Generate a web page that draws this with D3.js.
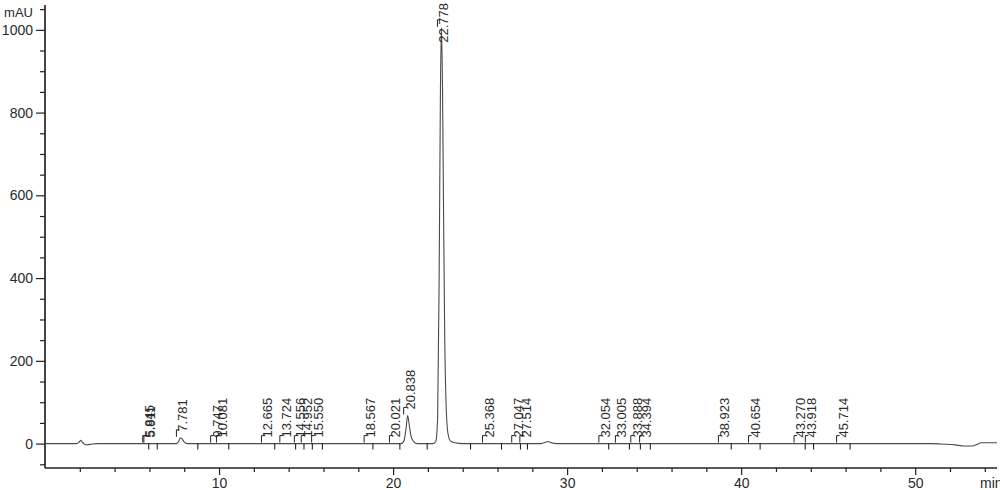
<!DOCTYPE html>
<html>
<head>
<meta charset="utf-8">
<script src="https://cdn.jsdelivr.net/npm/d3@7"></script>
<style>
  html, body { margin: 0; padding: 0; background: #fff; }
  svg { display: block; font-family: "Liberation Sans", Arial, sans-serif; }
</style>
</head>
<body>
<svg id="chart" width="1000" height="490"></svg>
<script>
// ---- Data ----
const timeMin = [0, 1.8, 1.95, 2.06, 2.15, 2.3, 2.45, 2.7, 3.0,
  7.55, 7.68, 7.78, 7.86, 7.98, 8.2,
  20.45, 20.62, 20.74, 20.838, 20.93, 21.03, 21.18, 21.4,
  22.3, 22.45, 22.56, 22.65, 22.72, 22.778, 22.84, 22.9, 22.97, 23.05, 23.15, 23.3, 23.55, 24.0,
  28.5, 28.75, 28.9, 29.1, 29.4,
  51.0, 51.5, 52.3, 52.8, 53.3, 53.55, 53.8, 54.7];
const signalMAU = [0, 0, 3, 8, 3, -2, -3, -1, 0,
  0, 5, 14, 12, 5, 0,
  0, 6, 35, 68, 45, 18, 5, 0,
  0, 5, 60, 420, 850, 1005, 860, 560, 250, 90, 25, 6, 2, 0,
  0, 3, 5, 2, 0,
  0, -1, -3, -6, -6, -2, 2, 2];

const peakRT = [5.845, 5.911, 7.781, 9.747, 10.081, 12.665, 13.724, 14.556, 14.952, 15.550,
  18.567, 20.021, 20.838, 22.778, 25.368, 27.047, 27.514, 32.054, 33.005, 33.888, 34.394,
  38.923, 40.654, 43.270, 43.918, 45.714];
const peakLabels = ["5.845", "5.911", "7.781", "9.747", "10.081", "12.665", "13.724", "14.556", "14.952", "15.550",
  "18.567", "20.021", "20.838", "22.778", "25.368", "27.047", "27.514", "32.054", "33.005", "33.888", "34.394",
  "38.923", "40.654", "43.270", "43.918", "45.714"];
const baselineTicks = [5.96, 6.45, 8.78, 10.56, 13.2, 14.4, 14.88, 15.36, 15.94, 18.84, 20.39, 21.96,
  24.45, 26.23, 27.32, 27.72, 32.39, 33.58, 34.21, 34.78, 39.43, 41.09, 43.68, 44.16, 46.26];

const xMajorTicks = [10, 20, 30, 40, 50];
const yMajorTicks = [0, 200, 400, 600, 800, 1000];
const xUnit = "min";
const yUnit = "mAU";

// ---- Layout ----
const svg = d3.select("#chart");
const x = d3.scaleLinear().domain([0, 54.7]).range([45, 997]);
const y = d3.scaleLinear().domain([-59, 1060]).range([468, 5]);
const axisColor = "#222";
const textColor = "#2a2a2a";

// Y axis
const yMinor = d3.range(-50, 1051, 50).filter(v => !yMajorTicks.includes(v));
const yAxisMajor = d3.axisLeft(y).tickValues(yMajorTicks).tickSize(9).tickPadding(3).tickFormat(d3.format("d"));
const yAxisMinor = d3.axisLeft(y).tickValues(yMinor).tickSize(5).tickFormat("");
const gy = svg.append("g").attr("transform", `translate(${x(0)},0)`);
gy.call(yAxisMajor);
gy.append("g").call(yAxisMinor);
gy.selectAll(".domain").attr("d", `M0,${y.range()[1]}V${y.range()[0]}`);

// X axis
const xMinor = d3.range(2, 55, 2).filter(v => !xMajorTicks.includes(v));
const xAxisMajor = d3.axisBottom(x).tickValues(xMajorTicks).tickSize(7).tickPadding(3).tickFormat(d3.format("d"));
const xAxisMinor = d3.axisBottom(x).tickValues(xMinor).tickSize(4).tickFormat("");
const gx = svg.append("g").attr("transform", `translate(0,${y(-59)})`);
gx.call(xAxisMajor);
gx.append("g").call(xAxisMinor);
gx.selectAll(".domain").attr("d", `M${x.range()[0]},0H${x.range()[1]}`);

svg.selectAll(".domain").attr("stroke", axisColor).attr("stroke-width", 1.2);
svg.selectAll(".tick line").attr("stroke", axisColor).attr("stroke-width", 1.2);
svg.selectAll(".tick text").attr("fill", textColor).attr("font-size", 14)
  .attr("font-family", "'Liberation Sans', Arial, sans-serif");

// Axis unit labels
svg.append("text").attr("x", 33).attr("y", 17).attr("text-anchor", "end")
  .attr("font-size", 13).attr("fill", textColor).text(yUnit);
svg.append("text").attr("x", 980).attr("y", 488)
  .attr("font-size", 14).attr("fill", textColor).text(xUnit);

// Signal trace
const pts = timeMin.map((t, i) => [t, signalMAU[i]]);
const line = d3.line().x(d => x(d[0])).y(d => y(d[1])).curve(d3.curveMonotoneX);
svg.append("path").datum(pts).attr("d", line)
  .attr("fill", "none").attr("stroke", "#4a4a4a").attr("stroke-width", 1.1);

// signal value at a retention time (linear lookup on the read points)
function signalAt(t) {
  for (let i = 1; i < timeMin.length; i++) {
    if (t <= timeMin[i]) {
      const t0 = timeMin[i - 1], t1 = timeMin[i];
      const f = (t - t0) / (t1 - t0);
      return signalMAU[i - 1] + f * (signalMAU[i] - signalMAU[i - 1]);
    }
  }
  return 0;
}

// Baseline event ticks (hang below baseline)
svg.append("g").selectAll("line").data(baselineTicks).join("line")
  .attr("x1", d => x(d)).attr("x2", d => x(d))
  .attr("y1", y(0)).attr("y2", y(0) + 6)
  .attr("stroke", axisColor).attr("stroke-width", 1.1);

// Peak labels
const gl = svg.append("g");
peakRT.forEach((rt, i) => {
  const px = x(rt);
  const yApex = y(signalAt(rt));
  const t = gl.append("text")
    .attr("font-size", 13).attr("fill", textColor)
    .text(peakLabels[i]);
  const len = t.node().getComputedTextLength();
  let bottom = yApex - 6;
  if (bottom - len < 3) bottom = 3 + len;
  t.attr("transform", `translate(${px + 7},${bottom}) rotate(-90)`);
  // label mark
  const mTop = Math.min(yApex - 8, bottom + 1);
  gl.append("path")
    .attr("d", `M${px - 4},${yApex - 1}V${mTop}H${px - 1}`)
    .attr("fill", "none").attr("stroke", axisColor).attr("stroke-width", 1);
});
</script>
</body>
</html>
